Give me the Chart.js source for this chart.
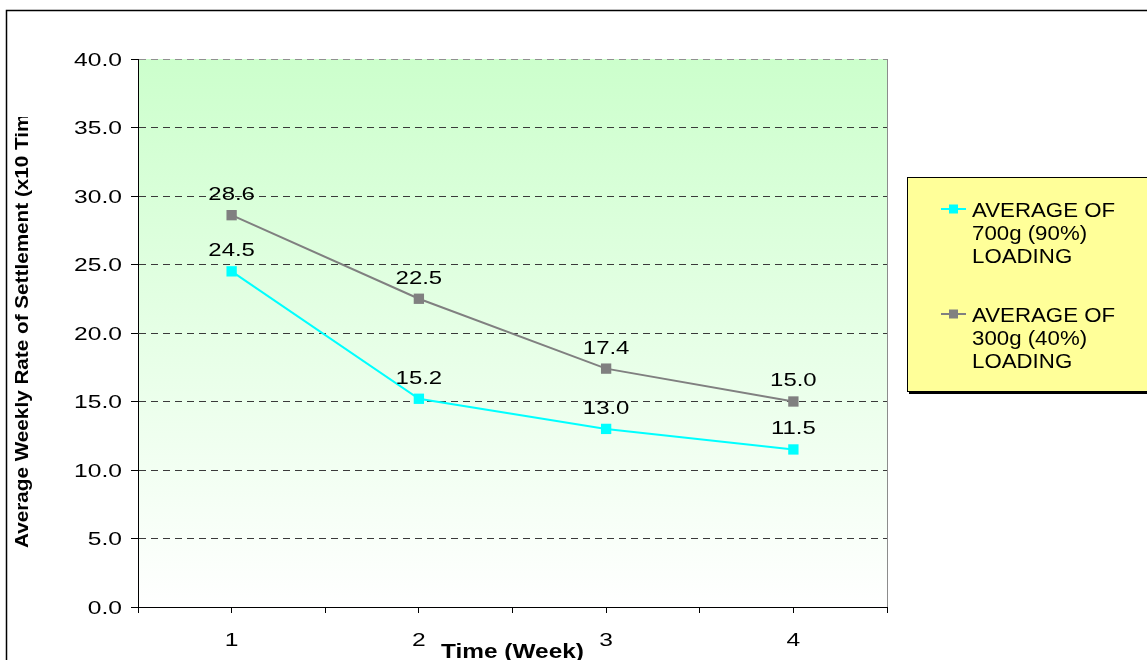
<!DOCTYPE html>
<html>
<head>
<meta charset="utf-8">
<title>Average Weekly Rate of Settlement</title>
<script src="https://cdn.jsdelivr.net/npm/chart.js@4/dist/chart.umd.min.js"></script>
<style>
  html, body { margin: 0; padding: 0; background: #ffffff; }
  canvas { display: block; }
</style>
</head>
<body>
<canvas id="chart" width="1147" height="660"></canvas>
<script>
// Weeks on the x axis and the weekly settlement rate of each loading
const weeks = [1, 2, 3, 4];
const weekLabels = ['1', '2', '3', '4'];
const load700 = [24.5, 15.2, 13.0, 11.5];
const load300 = [28.6, 22.5, 17.4, 15.0];
const seriesNames = [
  ['AVERAGE OF', '700g (90%)', 'LOADING'],
  ['AVERAGE OF', '300g (40%)', 'LOADING']
];
const yTitle = 'Average Weekly Rate of Settlement (x10 Times)';
const xTitle = 'Time (Week)';

const FONT = '"Liberation Sans", Arial, sans-serif';

const toPoints = vals => vals.map((v, i) => ({ x: weeks[i], y: v }));

// Text drawn with a wide, spreadsheet-like face: horizontally scaled,
// positioned by the vertical centre of its capitals.
function wideText(ctx, text, x, capMid, size, sx, align, bold) {
  ctx.save();
  ctx.font = (bold ? 'bold ' : '') + size + 'px ' + FONT;
  ctx.textAlign = align;
  ctx.textBaseline = 'alphabetic';
  ctx.translate(x, capMid + 0.358 * size);
  ctx.scale(sx, 1);
  ctx.fillText(text, 0, 0);
  ctx.restore();
}

// Frame, green plot-area wash and the right edge of the plot
const backdrop = {
  id: 'backdrop',
  beforeDraw(chart) {
    const { ctx, chartArea: a } = chart;
    ctx.save();
    ctx.fillStyle = '#ffffff';
    ctx.fillRect(0, 0, chart.width, chart.height);
    ctx.strokeStyle = '#000000';
    ctx.lineWidth = 1.5;
    ctx.strokeRect(6.5, 10.5, chart.width + 20, chart.height + 20);
    const g = ctx.createLinearGradient(0, a.top, 0, a.bottom);
    g.addColorStop(0, '#ccffcc');
    g.addColorStop(1, '#ffffff');
    ctx.fillStyle = g;
    ctx.fillRect(a.left, a.top, a.right - a.left, a.bottom - a.top);
    ctx.restore();
  },
  afterDraw(chart) {
    const { ctx, chartArea: a } = chart;
    ctx.save();
    ctx.strokeStyle = '#8c8c8c';
    ctx.lineWidth = 1;
    ctx.beginPath();
    ctx.moveTo(a.right + 0.5, a.top);
    ctx.lineTo(a.right + 0.5, a.bottom);
    ctx.stroke();
    ctx.restore();
  }
};

// Tick labels of both axes, placed through the scales
const tickText = {
  id: 'tickText',
  afterDraw(chart) {
    const { ctx } = chart;
    const xs = chart.scales.x, ys = chart.scales.y;
    ctx.save();
    ctx.fillStyle = '#000000';
    ys.ticks.forEach(t => {
      wideText(ctx, Number(t.value).toFixed(1), 122, ys.getPixelForValue(t.value), 18.5, 1.33, 'right', false);
    });
    weeks.forEach((w, i) => {
      wideText(ctx, weekLabels[i], xs.getPixelForValue(w), 639, 18.5, 1.33, 'center', false);
    });
    ctx.restore();
  }
};

// Axis titles
const axisTitles = {
  id: 'axisTitles',
  afterDraw(chart) {
    const { ctx, chartArea: a } = chart;
    ctx.save();
    ctx.fillStyle = '#000000';
    wideText(ctx, xTitle, (a.left + a.right) / 2, 651, 20, 1.22, 'center', true);
    ctx.beginPath();
    ctx.rect(0, 117, 60, 600);
    ctx.clip();
    ctx.translate(23, 548);
    ctx.rotate(-Math.PI / 2);
    ctx.font = 'bold 18px ' + FONT;
    ctx.textAlign = 'left';
    ctx.textBaseline = 'middle';
    ctx.scale(1.15, 1);
    ctx.fillText(yTitle, 0, 0);
    ctx.restore();
  }
};

// Value printed above every marker
const valueLabels = {
  id: 'valueLabels',
  afterDatasetsDraw(chart) {
    const { ctx } = chart;
    ctx.save();
    ctx.fillStyle = '#000000';
    chart.data.datasets.forEach((ds, di) => {
      chart.getDatasetMeta(di).data.forEach((el, i) => {
        wideText(ctx, ds.data[i].y.toFixed(1), el.x, el.y - 21.5, 18, 1.33, 'center', false);
      });
    });
    ctx.restore();
  }
};

// Yellow legend box on the right
const legendBox = {
  id: 'legendBox',
  afterDraw(chart) {
    const { ctx } = chart;
    const left = 907, top = 177, bottom = 391;
    ctx.save();
    ctx.fillStyle = '#000000';
    ctx.fillRect(left + 2, top + 2, chart.width, bottom - top + 1);
    ctx.fillStyle = '#ffff99';
    ctx.fillRect(left, top, chart.width, bottom - top);
    ctx.strokeStyle = '#000000';
    ctx.lineWidth = 1;
    ctx.strokeRect(left + 0.5, top + 0.5, chart.width, bottom - top);
    const starts = [209, 314];
    chart.data.datasets.forEach((ds, di) => {
      const y0 = starts[di];
      ctx.strokeStyle = ds.borderColor;
      ctx.lineWidth = 2;
      ctx.beginPath();
      ctx.moveTo(941, y0);
      ctx.lineTo(966, y0);
      ctx.stroke();
      ctx.fillStyle = ds.pointBackgroundColor;
      ctx.fillRect(949, y0 - 4.5, 9, 9);
      ctx.fillStyle = '#000000';
      seriesNames[di].forEach((line, li) => {
        wideText(ctx, line, 972, y0 + li * 23.3, 21, 1.06, 'left', false);
      });
    });
    ctx.restore();
  }
};

new Chart(document.getElementById('chart'), {
  type: 'line',
  data: {
    datasets: [
      {
        label: seriesNames[0].join(' '),
        data: toPoints(load700),
        borderColor: '#00ffff',
        backgroundColor: '#00ffff',
        pointBackgroundColor: '#00ffff',
        pointBorderColor: '#00ffff',
        borderWidth: 2,
        pointStyle: 'rect',
        pointRadius: 7.3,
        pointBorderWidth: 0,
        tension: 0
      },
      {
        label: seriesNames[1].join(' '),
        data: toPoints(load300),
        borderColor: '#808080',
        backgroundColor: '#808080',
        pointBackgroundColor: '#808080',
        pointBorderColor: '#808080',
        borderWidth: 2,
        pointStyle: 'rect',
        pointRadius: 7.3,
        pointBorderWidth: 0,
        tension: 0
      }
    ]
  },
  options: {
    responsive: false,
    animation: false,
    devicePixelRatio: 1,
    layout: { padding: { top: 59, right: 260, bottom: 0, left: 0 } },
    plugins: {
      legend: { display: false },
      tooltip: { enabled: false }
    },
    scales: {
      x: {
        type: 'linear',
        min: 0.5,
        max: 4.5,
        afterFit(scale) { scale.height = 53; },
        afterBuildTicks(scale) {
          const t = [];
          for (let v = 0.5; v <= 4.5001; v += 0.5) t.push({ value: v });
          scale.ticks = t;
        },
        ticks: { display: false },
        grid: {
          drawOnChartArea: false,
          drawTicks: true,
          tickLength: 6,
          tickColor: '#000000',
          tickWidth: 1
        },
        border: { display: true, color: '#000000', width: 1 }
      },
      y: {
        min: 0,
        max: 40,
        afterFit(scale) { scale.width = 138; },
        ticks: { display: false, stepSize: 5 },
        grid: {
          color: ctx => (ctx.tick && ctx.tick.value === 40) ? '#909090' : '#3a3a3a',
          lineWidth: 1,
          drawTicks: true,
          tickLength: 7,
          tickColor: '#000000',
          tickWidth: 1,
          tickBorderDash: []
        },
        border: { display: true, color: '#000000', width: 1, dash: [7, 5] }
      }
    }
  },
  plugins: [backdrop, tickText, axisTitles, valueLabels, legendBox]
});
</script>
</body>
</html>
